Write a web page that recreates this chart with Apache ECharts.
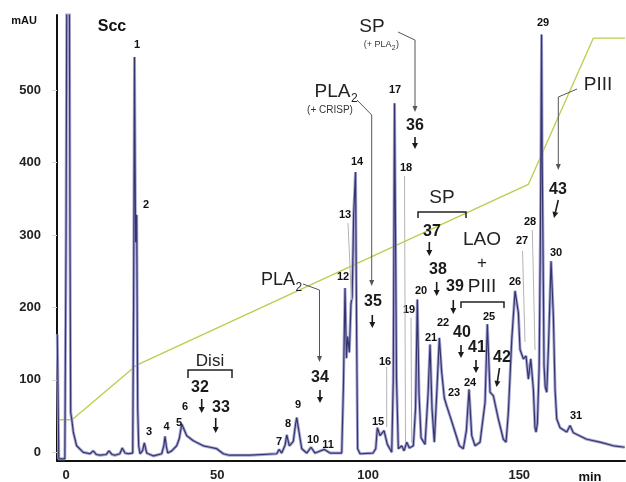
<!DOCTYPE html>
<html><head><meta charset="utf-8">
<script src="https://cdn.jsdelivr.net/npm/echarts@6/dist/echarts.min.js"></script>
<style>html,body{margin:0;padding:0;background:#fff}#c{width:626px;height:482px}</style>
</head><body><div id="c"></div>
<script>
// ---- data (retention time in min, absorbance in mAU) ----
const trace = [
[-2.9,163],[-2.4,-9],[-0.4,-9],[0.0,300],[0.35,800],[0.65,1400],[1.0,800],[1.3,300],[1.53,55],[1.87,46],[2.4,28],[3.5,9],[5.7,0],[7.9,-2],[9.0,2],[10.0,-3],[11.2,-4],[13.3,-3],[14.2,2],[15.2,-3],[16.2,-4],[17.8,-2],[18.6,6],[19.5,-1],[20.6,-2],[22.06,-1],[22.35,200],[22.65,546],[23.0,290],[23.38,328],[23.71,60],[24.04,9],[24.48,-2],[25.3,2],[25.9,13],[26.7,-1],[28.9,-5],[31.66,-2],[32.4,10],[32.75,22],[33.2,8],[33.64,-1],[34.97,2],[36.62,9],[37.48,19],[38.28,39],[38.81,34],[39.93,23],[42.12,16],[45.43,9],[47.65,7],[49.86,5],[52.05,-2],[54,-4],[60.89,-4],[69.73,-2],[70.49,4],[71.38,-1],[72.5,10],[73.04,24],[73.9,9],[75.2,15],[76.0,40],[76.35,48],[77.11,28],[78.0,5],[79.66,-1],[81.08,7],[82.4,-1],[85.48,4],[87.37,-1],[91.24,-1],[91.8,90],[92.33,227],[92.8,130],[93.2,160],[93.76,138],[94.3,205],[94.7,215],[95.2,330],[95.81,387],[96.2,150],[96.5,5],[97.3,-2],[101.6,-1],[102.5,5],[103.03,34],[103.92,23],[104.5,22],[105.24,30],[106.34,11],[107.79,0],[108.3,100],[108.72,482],[109.05,300],[109.38,100],[109.98,5],[111.1,9],[111.87,2],[112.76,14],[113.62,6],[114.94,9],[115.67,60],[116.27,211],[116.83,80],[117.5,20],[118.82,11],[119.81,80],[120.47,149],[121.13,60],[121.89,14],[122.79,90],[123.55,158],[124.34,110],[125.2,75],[126.0,64],[127.09,50],[128.75,28],[130.17,9],[131.49,5],[132.5,30],[133.38,87],[134.27,23],[135.36,9],[137.02,14],[138.68,69],[139.44,177],[140.33,83],[141.43,78],[143.08,46],[144.74,18],[145.63,14],[146.39,55],[147.52,156],[148.61,223],[149.7,193],[150.26,142],[151.36,129],[152.25,133],[153.01,101],[153.81,129],[154.67,87],[155.2,34],[155.56,28],[156.0,40],[156.6,120],[157.0,300],[157.38,577],[157.6,400],[157.98,230],[158.2,120],[158.6,90],[159.1,83],[159.7,150],[160.53,264],[161.29,188],[161.85,87],[162.41,46],[163.51,34],[165.73,28],[166.82,37],[167.91,27],[172.34,18],[176.75,14],[181.15,9],[184.9,7]
];
const gradientTimes  = [-3, 1.97, 23.2, 153.0, 174.5, 185];
const gradientLevels = [45, 45, 120, 370, 572, 572];
const xTickValues = [0, 50, 100, 150];
const yTickValues = [0, 100, 200, 300, 400, 500];
const peakNumbers = ['1','2','3','4','5','6','7','8','9','10','11','12','13','14','15','16','17','18','19','20','21','22','23','24','25','26','27','28','29','30','31'];
const fractionNumbers = ['32','33','34','35','36','37','38','39','40','41','42','43'];

// ---- layout (pixel positions of annotations) ----
const FONT = '"Liberation Sans", Arial, sans-serif';
const peakPos = [[137,45],[146,205],[149,432],[166.5,427],[179,423],[185,407],[279,442],[288,424],[298,405],[313,440],[328,445],[343,277],[345,215],[357,162],[378,422],[385,362],[395,90],[406,168],[409,310],[421,291],[431,338],[443,323],[454,393],[470,383],[489,317],[515,282],[522,241],[530,222],[543,23],[556,253],[576,416]];
const fracPos = [[200,388],[221,408],[320,378],[373,302],[415,126],[432,232],[438,270],[455,287],[462,333],[477,348],[502,358],[558,190]];
const fracArrows = [[[201.7,399],[201.7,413]],[[215.7,418],[215.7,433]],[[320,390],[320,403]],[[372.3,315],[372.3,328]],[[415,137],[415,149]],[[429.3,242],[429.3,256]],[[436.7,282],[436.7,296]],[[453.3,300],[453.3,314]],[[461,345],[461,358]],[[476,360],[476,373]],[[499.5,368],[496.5,387]],[[558.3,200],[554,218]]];

const els = [];
function txt(s, x, y, size, weight, color, align){
  const a = align || 'center';
  els.push({type:'text', x:x, y:y, z:100, silent:true, style:{text:s, fill:color||'#111', font:(weight||'normal')+' '+size+'px '+FONT, textAlign:a, textVerticalAlign:'middle', align:a, verticalAlign:'middle'}});
}
function line(points, color, width){
  els.push({type:'polyline', z:100, silent:true, shape:{points:points}, style:{stroke:color, lineWidth:width, fill:null}});
}
function arrow(points, color, width, hl, hw){
  const n = points.length;
  const p1 = points[n-2], p2 = points[n-1];
  const dx = p2[0]-p1[0], dy = p2[1]-p1[1], L = Math.hypot(dx,dy);
  const ux = dx/L, uy = dy/L;
  const base = [p2[0]-ux*hl, p2[1]-uy*hl];
  const pts = points.slice(0, n-1).concat([base]);
  line(pts, color, width);
  els.push({type:'polygon', z:100, silent:true, shape:{points:[p2,[base[0]-uy*hw, base[1]+ux*hw],[base[0]+uy*hw, base[1]-ux*hw]]}, style:{fill:color}});
}

txt('mAU', 24, 21, 11, 'bold');
txt('Scc', 112, 27, 16, 'bold');
txt('min', 590, 477, 13, 'bold');
peakNumbers.forEach((s,i)=>txt(s, peakPos[i][0], peakPos[i][1], 11, 'bold'));
fractionNumbers.forEach((s,i)=>txt(s, fracPos[i][0], fracPos[i][1], 16, 'bold', '#1a1a1a'));
fracArrows.forEach(a=>arrow(a, '#1a1a1a', 1.6, 6, 3));

// peak leader lines
[[[348,223],[351.5,300]],[[386.7,367],[386.7,427]],[[404.5,176],[405.5,443]],[[411,318],[411.7,443]],[[522.5,251],[525,342]],[[532.3,230],[535,350]]].forEach(p=>line(p,'#b4b4b4',1));

// group annotations
txt('Disi', 210, 361, 17, 'normal', '#222');
line([[188,378],[188,370],[232,370],[232,378]], '#222', 1.5);
txt('PLA', 295, 280, 18, 'normal', '#222', 'right');
txt('2', 295.5, 288, 12, 'normal', '#222', 'left');
arrow([[303,284],[319.5,290],[319.5,362]], '#555', 1, 6, 2.5);
txt('PLA', 350.5, 92, 19, 'normal', '#222', 'right');
txt('2', 351, 99, 12, 'normal', '#222', 'left');
txt('(+ CRISP)', 330, 110, 10, 'normal', '#333');
arrow([[357,100],[371.7,115],[371.7,286]], '#555', 1, 6, 2.5);
txt('SP', 372, 27, 19, 'normal', '#222');
txt('(+ PLA', 391.5, 45, 9, 'normal', '#333', 'right');
txt('2', 391.8, 48, 7, 'normal', '#333', 'left');
txt(')', 396, 45, 9, 'normal', '#333', 'left');
arrow([[398,32],[415,40],[415,112]], '#555', 1, 6, 2.5);
txt('SP', 442, 198, 19, 'normal', '#222');
line([[418,218],[418,212],[466,212],[466,218]], '#222', 1.5);
txt('LAO', 482, 240, 19, 'normal', '#222');
txt('+', 482, 263, 17, 'normal', '#222');
txt('PIII', 482, 287, 19, 'normal', '#222');
line([[461,308],[461,302],[504,302],[504,308]], '#222', 1.5);
txt('PIII', 598, 85, 19, 'normal', '#222');
arrow([[577,89],[558.3,97],[558.3,170]], '#555', 1, 6, 2.5);

const chart = echarts.init(document.getElementById('c'), null, {renderer:'canvas'});
chart.setOption({
  animation:false,
  backgroundColor:'#fff',
  grid:{left:57, right:1, top:15, bottom:20, containLabel:false},
  xAxis:{type:'value', min:-3, max:185, splitLine:{show:false},
    axisLine:{onZero:false, lineStyle:{color:'#111', width:2}},
    axisTick:{show:false},
    axisLabel:{customValues:xTickValues, margin:8, color:'#222', fontWeight:'bold', fontSize:13, fontFamily:FONT}},
  yAxis:{type:'value', min:-12, max:604, splitLine:{show:false},
    axisLine:{onZero:false, lineStyle:{color:'#111', width:2}},
    axisTick:{customValues:yTickValues, length:5, lineStyle:{color:'#d8d8d8'}},
    axisLabel:{customValues:yTickValues, margin:16, color:'#222', fontWeight:'bold', fontSize:13, fontFamily:FONT}},
  series:[
    {type:'line', data:gradientTimes.map((t,i)=>[t, gradientLevels[i]]), symbol:'none', clip:true,
     lineStyle:{color:'#b6cf4c', width:1.3}, z:3},
    {type:'line', data:trace, symbol:'none', clip:true, lineStyle:{color:'#a9a9d3', width:3}, z:4},
    {type:'line', data:trace, symbol:'none', clip:true, lineStyle:{color:'#34356f', width:1.2}, z:5}
  ],
  graphic:{elements:els}
});
</script></body></html>
